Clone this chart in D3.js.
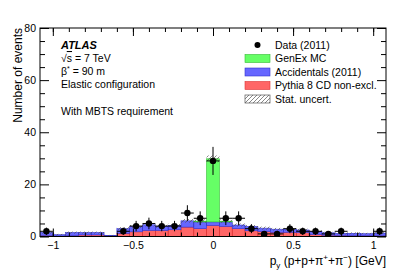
<!DOCTYPE html>
<html>
<head>
<meta charset="utf-8">
<script src="https://cdn.jsdelivr.net/npm/d3@7"></script>
<style>
  body { margin: 0; background: #fff; }
  text { font-family: "Liberation Sans", Arial, sans-serif; fill: #000; }
</style>
</head>
<body>
<svg id="chart" width="407" height="276"></svg>
<script>
// bins of 0.08 GeV from -1.08 to 1.08
const binCenters = [-1.04, -0.96, -0.88, -0.80, -0.72, -0.64, -0.56, -0.48, -0.40, -0.32, -0.24, -0.16, -0.08,
  0, 0.08, 0.16, 0.24, 0.32, 0.40, 0.48, 0.56, 0.64, 0.72, 0.80, 0.88, 0.96, 1.04];
const binWidth = 0.08;
const dataCounts = [2, 0, 0, 0, 0, 0, 2, 4, 5, 4, 4, 9, 7, 29, 7, 7, 3, 1, 1, 3, 2, 2, 1, 2, 0, 0, 2];
const pythiaCD = [0.4, 0.2, 0.3, 0.6, 0.6, 0.2, 1.2, 1.8, 2.3, 2.3, 2.6, 3.6, 3.0, 4.2, 3.8, 3.0, 2.2, 1.9, 1.6, 1.6, 1.5, 0.8, 0.5, 0.4, 0.3, 0.3, 0.3];
const accidentals = [1.1, 0.5, 1.2, 0.9, 0.9, 0.2, 1.8, 2.0, 2.2, 1.6, 1.7, 2.4, 2.6, 1.4, 1.8, 1.4, 1.6, 1.3, 1.2, 1.2, 1.0, 1.2, 0.9, 0.8, 0.9, 0.8, 1.0];
const genEx = [0, 0, 0, 0, 0, 0, 0, 0, 0, 0, 0, 0, 0.3, 24.2, 0.3, 0, 0, 0, 0, 0, 0, 0, 0, 0, 0, 0, 0];
const statErr = [0.4, 0.3, 0.4, 0.4, 0.4, 0.2, 0.6, 0.6, 0.6, 0.6, 0.6, 0.7, 0.7, 1.3, 0.7, 0.6, 0.6, 0.6, 0.5, 0.5, 0.5, 0.4, 0.4, 0.4, 0.4, 0.3, 0.4];

const xTicks = [-1, -0.5, 0, 0.5, 1];
const xMinorTicks = [-1.0, -0.9, -0.8, -0.7, -0.6, -0.5, -0.4, -0.3, -0.2, -0.1, 0, 0.1, 0.2, 0.3, 0.4, 0.5, 0.6, 0.7, 0.8, 0.9, 1.0];
const yTicks = [0, 20, 40, 60, 80];
const yMinorTicks = [5, 10, 15, 25, 30, 35, 45, 50, 55, 65, 70, 75];

const layerKeys = ["pythia", "acc", "genex"];
const layerFill = { pythia: "#ff6666", acc: "#6666ff", genex: "#66ff66" };
const layerLine = { pythia: "#dd3333", acc: "#3333cc", genex: "#33bb33" };

const svg = d3.select("#chart");
const pL = 40, pR = 386, pT = 28, pB = 236.5;

const x = d3.scaleLinear().domain([-1.08, 1.08]).range([pL, pR]);
const y = d3.scaleLinear().domain([0, 80]).range([pB, pT]);

// hatch pattern for stat. uncertainty
const defs = svg.append("defs");
defs.append("pattern")
  .attr("id", "hatch")
  .attr("patternUnits", "userSpaceOnUse")
  .attr("width", 4).attr("height", 4)
  .append("path")
  .attr("d", "M-1,1 l2,-2 M0,4 l4,-4 M3,5 l2,-2")
  .attr("stroke", "#555").attr("stroke-width", 0.7);
defs.append("clipPath").attr("id", "plotclip")
  .append("rect").attr("x", pL).attr("y", pT)
  .attr("width", pR - pL).attr("height", pB - pT);

const rows = binCenters.map((c, i) => ({
  c: c, pythia: pythiaCD[i], acc: accidentals[i], genex: genEx[i]
}));
const series = d3.stack().keys(layerKeys)(rows);

const plot = svg.append("g").attr("clip-path", "url(#plotclip)");

function stepPoints(s) {
  const pts = s.map(d => ({ x: d.data.c - binWidth / 2, y0: d[0], y1: d[1] }));
  const last = s[s.length - 1];
  pts.push({ x: last.data.c + binWidth / 2, y0: last[0], y1: last[1] });
  return pts;
}

const area = d3.area()
  .x(d => x(d.x)).y0(d => y(d.y0)).y1(d => y(d.y1))
  .curve(d3.curveStepAfter);

series.forEach(s => {
  plot.append("path").attr("d", area(stepPoints(s))).attr("fill", layerFill[s.key]);
  // outline each filled bin of this layer
  plot.selectAll(null)
    .data(s.filter(d => d[1] - d[0] > 0))
    .join("rect")
    .attr("x", d => x(d.data.c - binWidth / 2))
    .attr("width", x(binWidth) - x(0))
    .attr("y", d => y(d[1]))
    .attr("height", d => y(d[0]) - y(d[1]))
    .attr("fill", "none")
    .attr("stroke", layerLine[s.key]).attr("stroke-width", 0.6);
});

// stat. uncertainty band
const totals = rows.map(r => r.pythia + r.acc + r.genex);
plot.selectAll("rect.unc")
  .data(binCenters)
  .join("rect")
  .attr("class", "unc")
  .attr("x", c => x(c - binWidth / 2))
  .attr("width", x(binWidth) - x(0))
  .attr("y", (c, i) => y(totals[i] + statErr[i]))
  .attr("height", (c, i) => y(totals[i] - statErr[i]) - y(totals[i] + statErr[i]))
  .attr("fill", "url(#hatch)");

// data points
const pts = binCenters.map((c, i) => ({ c: c, n: dataCounts[i] })).filter(d => d.n > 0);
const dg = svg.append("g");
dg.selectAll("line.ev")
  .data(pts).join("line")
  .attr("class", "ev")
  .attr("x1", d => x(d.c)).attr("x2", d => x(d.c))
  .attr("y1", d => y(d.n - Math.sqrt(d.n))).attr("y2", d => y(d.n + Math.sqrt(d.n)))
  .attr("stroke", "#000").attr("stroke-width", 1);
dg.selectAll("line.eh")
  .data(pts).join("line")
  .attr("class", "eh")
  .attr("x1", d => x(d.c - binWidth / 2)).attr("x2", d => x(d.c + binWidth / 2))
  .attr("y1", d => y(d.n)).attr("y2", d => y(d.n))
  .attr("stroke", "#000").attr("stroke-width", 1);
dg.selectAll("circle")
  .data(pts).join("circle")
  .attr("cx", d => x(d.c)).attr("cy", d => y(d.n)).attr("r", 3.2)
  .attr("fill", "#000");

// axes, ticks inside on all four sides
const fmt = d => d === 0 ? "0" : d3.format("")(d).replace("-", "\u2212");
function styleAxis(g) {
  g.attr("font-family", null);
  g.select(".domain").remove();
  g.selectAll("line").attr("stroke", "#000");
  g.selectAll("text").style("font-size", "10.5px").attr("fill", "#000");
}
svg.append("g").attr("transform", `translate(0,${pB})`)
  .call(d3.axisBottom(x).tickValues(xTicks).tickSize(-8).tickSizeOuter(0).tickPadding(5).tickFormat(fmt))
  .call(styleAxis);
svg.append("g").attr("transform", `translate(0,${pB})`)
  .call(d3.axisBottom(x).tickValues(xMinorTicks).tickSize(-4).tickFormat(""))
  .call(styleAxis);
svg.append("g").attr("transform", `translate(0,${pT})`)
  .call(d3.axisTop(x).tickValues(xTicks).tickSize(-8).tickFormat(""))
  .call(styleAxis);
svg.append("g").attr("transform", `translate(0,${pT})`)
  .call(d3.axisTop(x).tickValues(xMinorTicks).tickSize(-4).tickFormat(""))
  .call(styleAxis);
svg.append("g").attr("transform", `translate(${pL},0)`)
  .call(d3.axisLeft(y).tickValues(yTicks).tickSize(-9).tickPadding(4).tickFormat(fmt))
  .call(styleAxis);
svg.append("g").attr("transform", `translate(${pL},0)`)
  .call(d3.axisLeft(y).tickValues(yMinorTicks).tickSize(-5).tickFormat(""))
  .call(styleAxis);
svg.append("g").attr("transform", `translate(${pR},0)`)
  .call(d3.axisRight(y).tickValues(yTicks).tickSize(-9).tickFormat(""))
  .call(styleAxis);
svg.append("g").attr("transform", `translate(${pR},0)`)
  .call(d3.axisRight(y).tickValues(yMinorTicks).tickSize(-5).tickFormat(""))
  .call(styleAxis);

svg.append("rect")
  .attr("x", pL).attr("y", pT)
  .attr("width", pR - pL).attr("height", pB - pT)
  .attr("fill", "none").attr("stroke", "#000").attr("stroke-width", 1);

// axis titles
svg.append("text")
  .attr("transform", `translate(22,${pT}) rotate(-90)`)
  .attr("text-anchor", "end")
  .style("font-size", "12px")
  .text("Number of events");

const xt = svg.append("text")
  .attr("x", pR).attr("y", 265)
  .attr("text-anchor", "end")
  .style("font-size", "12px");
xt.append("tspan").text("p");
xt.append("tspan").attr("dy", 3).style("font-size", "8px").text("y");
xt.append("tspan").attr("dy", -3).text(" (p+p+\u03c0");
xt.append("tspan").attr("dy", -5).style("font-size", "8px").text("+");
xt.append("tspan").attr("dy", 5).text("+\u03c0");
xt.append("tspan").attr("dy", -5).style("font-size", "8px").text("\u2212");
xt.append("tspan").attr("dy", 5).text(") [GeV]");

// ATLAS label block
const lx = 61;
svg.append("text").attr("x", lx).attr("y", 49)
  .style("font-size", "11px").style("font-weight", "bold").style("font-style", "italic")
  .text("ATLAS");
const sq = svg.append("text").attr("x", lx).attr("y", 62).style("font-size", "10.5px");
sq.append("tspan").text("\u221a");
sq.append("tspan").style("text-decoration", "overline").text("s");
sq.append("tspan").text(" = 7 TeV");
const bt = svg.append("text").attr("x", lx).attr("y", 75).style("font-size", "10.5px");
bt.append("tspan").text("\u03b2");
bt.append("tspan").attr("dy", -4).style("font-size", "7px").text("*");
bt.append("tspan").attr("dy", 4).text(" = 90 m");
svg.append("text").attr("x", lx).attr("y", 88).style("font-size", "10.5px").text("Elastic configuration");
svg.append("text").attr("x", lx).attr("y", 115).style("font-size", "10.5px").text("With MBTS requirement");

// legend
const legendItems = [
  { label: "Data (2011)", kind: "data" },
  { label: "GenEx MC", kind: "genex" },
  { label: "Accidentals (2011)", kind: "acc" },
  { label: "Pythia 8 CD non-excl.", kind: "pythia" },
  { label: "Stat. uncert.", kind: "unc" }
];
const lg = svg.append("g");
legendItems.forEach((it, i) => {
  const cy = 45 + i * 13.5;
  if (it.kind === "data") {
    lg.append("circle").attr("cx", 257.5).attr("cy", cy).attr("r", 3).attr("fill", "#000");
  } else if (it.kind === "unc") {
    lg.append("rect").attr("x", 245).attr("y", cy - 4).attr("width", 25).attr("height", 8)
      .attr("fill", "url(#hatch)").attr("stroke", "#555").attr("stroke-width", 0.7);
  } else {
    lg.append("rect").attr("x", 245).attr("y", cy - 4).attr("width", 25).attr("height", 8)
      .attr("fill", layerFill[it.kind]).attr("stroke", layerLine[it.kind]).attr("stroke-width", 0.6);
  }
  lg.append("text").attr("x", 275).attr("y", cy + 3.8)
    .style("font-size", "10.5px").text(it.label);
});
</script>
</body>
</html>
